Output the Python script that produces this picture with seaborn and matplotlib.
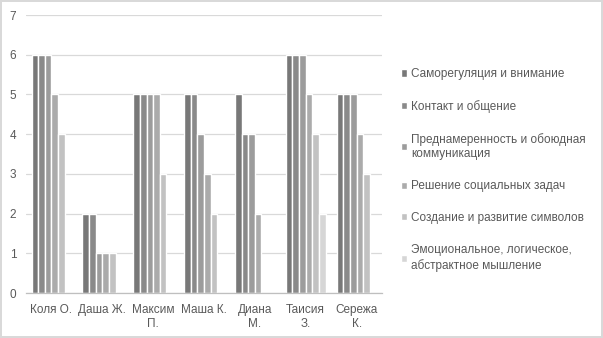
import matplotlib
matplotlib.use("Agg")
import matplotlib.pyplot as plt
import seaborn as sns
import pandas as pd

categories = ["Коля О.", "Даша Ж.", "Максим\nП.", "Маша К.", "Диана\nМ.", "Таисия\nЗ.", "Сережа\nК."]
series_names = [
    "Саморегуляция и внимание",
    "Контакт и общение",
    "Преднамеренность и обоюдная\nкоммуникация",
    "Решение социальных задач",
    "Создание и развитие символов",
    "Эмоциональное, логическое,\nабстрактное мышление",
]
s1 = [6, 2, 5, 5, 5, 6, 5]
s2 = [6, 2, 5, 5, 4, 6, 5]
s3 = [6, 1, 5, 4, 4, 6, 5]
s4 = [5, 1, 5, 3, 2, 5, 4]
s5 = [4, 1, 3, 2, 0, 4, 3]
s6 = [0, 0, 0, 0, 0, 2, 0]
series_values = [s1, s2, s3, s4, s5, s6]
colors = ["#787878", "#8a8a8a", "#9c9c9c", "#ababab", "#c2c2c2", "#d6d6d6"]

rows = []
for name, vals in zip(series_names, series_values):
    for cat, v in zip(categories, vals):
        rows.append({"cat": cat, "series": name, "value": v})
df = pd.DataFrame(rows)

sns.set_style("white")
plt.rcParams["font.family"] = ["Liberation Sans", "DejaVu Sans"]

fig = plt.figure(figsize=(6.03, 3.38), dpi=100)
ax = fig.add_axes([26 / 603, 1 - 293 / 338, (382 - 26) / 603, (293 - 15) / 338])

sns.barplot(data=df, x="cat", y="value", hue="series", order=categories,
            hue_order=series_names, palette=colors, width=0.78,
            edgecolor="white", linewidth=1.0, ax=ax, legend=True)

ax.set_xlim(-0.5, len(categories) - 0.5)
ax.set_ylim(0, 7)
ax.set_yticks(range(0, 8))
ax.yaxis.grid(True, color="#d9d9d9", linewidth=0.9)
ax.set_axisbelow(True)
ax.set_xlabel("")
ax.set_ylabel("")
for side in ["left", "right", "top"]:
    ax.spines[side].set_visible(False)
ax.spines["bottom"].set_color("#bfbfbf")
ax.spines["bottom"].set_linewidth(0.9)
ax.tick_params(axis="y", length=0, pad=7, labelsize=8.5, labelcolor="#595959")
ax.tick_params(axis="x", which="major", length=0, pad=8, labelsize=8.5, labelcolor="#595959")
ax.set_xticks([i - 0.5 for i in range(len(categories) + 1)], minor=True)
ax.tick_params(axis="x", which="minor", length=4, color="#bfbfbf", width=0.9)
for lbl in ax.get_xticklabels():
    lbl.set_linespacing(1.25)

ax.get_legend().remove()
handles, labels = ax.get_legend_handles_labels()
leg = fig.legend(handles, labels, loc="center left", bbox_to_anchor=(395 / 603, 1 - 170 / 338),
                 frameon=False, fontsize=8.5, labelcolor="#595959", handlelength=0.55,
                 handleheight=0.55, handletextpad=0.3, labelspacing=1.68, borderpad=0)
for t in leg.get_texts():
    t.set_linespacing(1.3)

fig.patch.set_facecolor("white")
fig.patch.set_edgecolor("#d9d9d9")
fig.patch.set_linewidth(1.5)
fig.savefig("out.png", dpi=100, facecolor="white", edgecolor=fig.get_edgecolor())
